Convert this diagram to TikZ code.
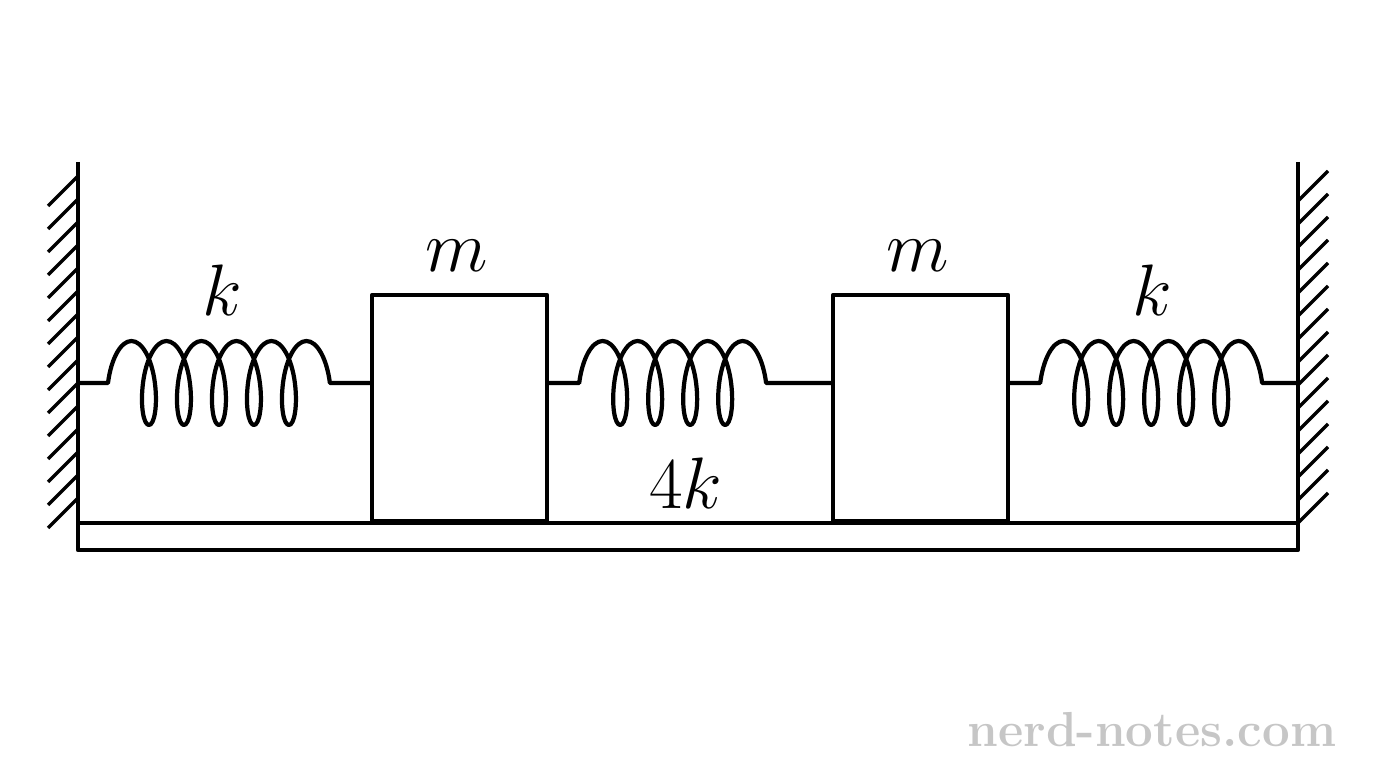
\documentclass[tikz,border=0pt]{standalone}
\usepackage{amsmath}
\usetikzlibrary{decorations.pathmorphing,calc}
\tikzset{
  spring/.style={decorate,decoration={coil,segment length=3.5mm,amplitude=4.2mm,aspect=0.35,pre length=3mm,post length=3mm}},
  mass/.style={draw,minimum width=1.75cm,minimum height=2.26cm,inner sep=0pt,anchor=south west},
  lbl/.style={font=\fontsize{22}{26}\selectfont}
}
\begin{document}
\begin{tikzpicture}[line width=1.2pt,line join=round]
\useasboundingbox (0,0) rectangle (13.76,7.68);
%walls and floor
\draw (0.78,6.06)--(0.78,2.45) coordinate(wl);
\draw (12.98,6.06)--(12.98,2.45) coordinate(wr);
\draw (0.78,2.18) rectangle (12.98,2.45);
%hatching
\foreach \y in {2.70,2.93,...,6.1}{
  \draw[line width=1pt] (0.78,\y)--++(-0.3,-0.3);
}
\foreach \y in {2.45,2.68,...,5.85}{
  \draw[line width=1pt] (12.98,\y)--++(0.3,0.3);
}
%masses
\node[mass] (m1) at (3.70,2.45) {};
\node[mass] (m2) at (8.31,2.45) {};
%springs
\coordinate (a) at (0.78,3.85);
\coordinate (b) at (12.98,3.85);
\draw[spring] (a) -- (m1.west |- a);
\draw[spring] (m1.east |- a) -- (m2.west |- a);
\draw[spring] (m2.east |- a) -- (b);
%labels
\node[lbl] at (2.22,4.78) {$k$};
\node[lbl] at (4.57,5.12) {$m$};
\node[lbl] at (9.18,5.12) {$m$};
\node[lbl] at (6.86,2.85) {$4k$};
\node[lbl] at (11.52,4.78) {$k$};
\node[text=gray!45,font=\fontsize{14}{16}\selectfont\bfseries,anchor=east] at (13.5,0.38) {nerd-notes.com};
\end{tikzpicture}
\end{document}
